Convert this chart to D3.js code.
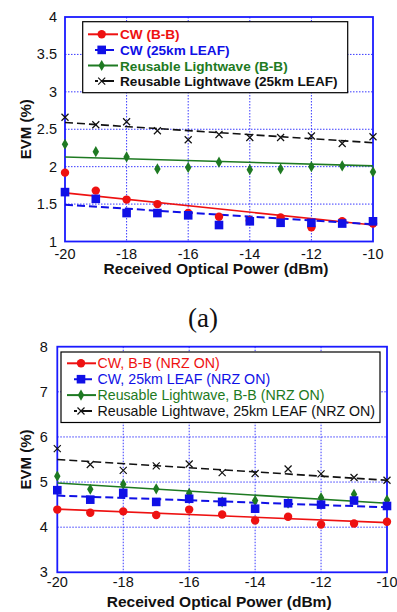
<!DOCTYPE html>
<html>
<head>
<meta charset="utf-8">
<script src="https://cdn.jsdelivr.net/npm/d3@7"></script>
<style>
  body { margin: 0; background: #fff; }
  svg { display: block; font-family: Arial, "Liberation Sans", sans-serif; }
</style>
</head>
<body>
<svg id="chart" width="397" height="612"></svg>
<script>
// received optical power (dBm)
const power = [-20, -19, -18, -17, -16, -15, -14, -13, -12, -11, -10];

// (a) top panel EVM values (%)
const cwBB = [1.92, 1.68, 1.56, 1.50, 1.38, 1.33, 1.28, 1.32, 1.19, 1.27, 1.24];
const cwLeaf = [1.66, 1.57, 1.38, 1.38, 1.35, 1.22, 1.27, 1.25, 1.25, 1.24, 1.27];
const rlBB = [2.30, 2.20, 2.13, 1.97, 1.99, 2.06, 1.96, 1.97, 2.00, 2.01, 1.93];
const rlLeaf = [2.66, 2.56, 2.60, 2.48, 2.36, 2.43, 2.39, 2.39, 2.41, 2.31, 2.40];
// trend line values at -20 and -10 dBm
const cwBBFit = [1.65, 1.22];
const cwLeafFit = [1.49, 1.23];
const rlBBFit = [2.13, 2.01];
const rlLeafFit = [2.59, 2.32];

// bottom panel EVM values (%), NRZ ON
const cwBBNrz = [4.39, 4.32, 4.35, 4.27, 4.39, 4.28, 4.15, 4.23, 4.06, 4.08, 4.12];
const cwLeafNrz = [4.82, 4.61, 4.76, 4.56, 4.63, 4.56, 4.41, 4.53, 4.50, 4.59, 4.47];
const rlBBNrz = [5.13, 4.84, 4.95, 4.85, 4.75, 4.56, 4.59, 4.53, 4.65, 4.73, 4.60];
const rlLeafNrz = [5.74, 5.39, 5.26, 5.36, 5.40, 5.21, 5.19, 5.29, 5.18, 5.10, 5.04];
const cwBBNrzFit = [4.40, 4.10];
const cwLeafNrzFit = [4.70, 4.44];
const rlBBNrzFit = [4.98, 4.53];
const rlLeafNrzFit = [5.50, 5.04];

const fitX = [-20, -10];
const xTicks = [-20, -18, -16, -14, -12, -10];
const yTicksTop = [1, 1.5, 2, 2.5, 3, 3.5, 4];
const yTicksBottom = [3, 4, 5, 6, 7, 8];

const legendTop = ["CW (B-B)", "CW (25km LEAF)", "Reusable Lightwave (B-B)", "Reusable Lightwave (25km LEAF)"];
const legendBottom = ["CW, B-B (NRZ ON)", "CW, 25km LEAF (NRZ ON)", "Reusable Lightwave,  B-B (NRZ ON)", "Reusable Lightwave, 25km LEAF (NRZ ON)"];

const colors = ["#ee1111", "#1010e6", "#1e7a22", "#111111"];
const markers = ["circle", "square", "diamond", "cross"];
const dashes = [null, "8,4", null, "8,4"];

const svg = d3.select("#chart");
const GRID = "#3a3aff";

function drawMarker(g, type, cx, cy, color) {
  if (type === "circle") {
    g.append("circle").attr("cx", cx).attr("cy", cy).attr("r", 4.2).attr("fill", color);
  } else if (type === "square") {
    g.append("rect").attr("x", cx - 4.3).attr("y", cy - 4.3).attr("width", 8.6).attr("height", 8.6).attr("fill", color);
  } else if (type === "diamond") {
    g.append("path").attr("transform", `translate(${cx},${cy})`)
      .attr("d", d3.symbol(d3.symbolDiamond, 36)()).attr("fill", color);
  } else {
    g.append("path")
      .attr("d", `M${cx - 3.5},${cy - 3.5}L${cx + 3.5},${cy + 3.5}M${cx - 3.5},${cy + 3.5}L${cx + 3.5},${cy - 3.5}`)
      .attr("stroke", color).attr("stroke-width", 1.2).attr("fill", "none");
  }
}

function panel(opts) {
  const x = d3.scaleLinear().domain([-20, -10]).range([opts.left, opts.right]);
  const y = d3.scaleLinear().domain(opts.yDomain).range([opts.bottom, opts.top]);
  const g = svg.append("g");

  // dotted grid
  g.append("g").selectAll("line").data(xTicks.slice(1, -1)).join("line")
    .attr("x1", d => x(d)).attr("x2", d => x(d))
    .attr("y1", opts.top).attr("y2", opts.bottom)
    .attr("stroke", GRID).attr("stroke-width", 1).attr("stroke-dasharray", "1.5,1.5");
  g.append("g").selectAll("line").data(opts.yTicks.slice(1, -1)).join("line")
    .attr("y1", d => y(d)).attr("y2", d => y(d))
    .attr("x1", opts.left).attr("x2", opts.right)
    .attr("stroke", GRID).attr("stroke-width", 1).attr("stroke-dasharray", "1.5,1.5");

  // frame
  g.append("rect")
    .attr("x", opts.left).attr("y", opts.top)
    .attr("width", opts.right - opts.left).attr("height", opts.bottom - opts.top)
    .attr("fill", "none").attr("stroke", "#1a1aff").attr("stroke-width", 1.8);

  // tick labels
  g.append("g").selectAll("text").data(xTicks).join("text")
    .attr("x", d => x(d)).attr("y", opts.xLabelY)
    .attr("text-anchor", "middle").attr("font-size", 14.5).attr("fill", "#111")
    .text(d => d);
  g.append("g").selectAll("text").data(opts.yTicks).join("text")
    .attr("x", opts.left - opts.yGap).attr("y", d => y(d) + 5)
    .attr("text-anchor", "end").attr("font-size", 14.5).attr("fill", "#111")
    .text(d => d);

  // axis titles
  g.append("text")
    .attr("x", (opts.left + opts.right) / 2 - 3).attr("y", opts.xTitleY)
    .attr("text-anchor", "middle").attr("font-size", 15.5).attr("font-weight", "bold")
    .attr("fill", "#111").text("Received Optical Power (dBm)");
  g.append("text")
    .attr("transform", `translate(31,${(opts.top + opts.bottom) / 2}) rotate(-90)`)
    .attr("text-anchor", "middle").attr("font-size", 15).attr("font-weight", "bold")
    .attr("fill", "#111").text("EVM (%)");

  // trend lines
  const line = d3.line().x(d => x(d[0])).y(d => y(d[1]));
  opts.fits.forEach((f, i) => {
    g.append("path")
      .attr("d", line(fitX.map((p, j) => [p, f[j]])))
      .attr("fill", "none").attr("stroke", colors[i])
      .attr("stroke-width", i === 1 ? 2 : 1.6)
      .attr("stroke-dasharray", dashes[i]);
  });

  // markers
  const order = [3, 2, 0, 1];
  order.forEach(i => {
    power.forEach((p, j) => drawMarker(g, markers[i], x(p), y(opts.series[i][j]), colors[i]));
  });

  // legend
  const L = opts.legend;
  g.append("rect").attr("x", L.x).attr("y", L.y).attr("width", L.w).attr("height", L.h)
    .attr("fill", "#fff").attr("stroke", "#000").attr("stroke-width", 1.2);
  L.labels.forEach((lab, i) => {
    const cy = L.y + L.first + i * L.step;
    const x0 = i % 2 === 1 ? L.lx0 + 7 : L.lx0;
    const x1 = i % 2 === 1 ? L.lx1 - 4 : L.lx1;
    g.append("line").attr("x1", x0).attr("x2", x1).attr("y1", cy).attr("y2", cy)
      .attr("stroke", colors[i]).attr("stroke-width", 2)
      .attr("stroke-dasharray", i % 2 === 1 ? "3,3,20" : null);
    drawMarker(g, markers[i], L.mx, cy, colors[i]);
    g.append("text").attr("x", L.tx).attr("y", cy + 5)
      .attr("font-size", L.fs).attr("font-weight", L.fw)
      .attr("fill", L.colored ? colors[i] : "#111").text(lab);
  });
}

panel({
  left: 65, right: 373, top: 17, bottom: 241.5,
  yDomain: [1, 4], yTicks: yTicksTop, yGap: 8,
  xLabelY: 258.5, xTitleY: 274,
  series: [cwBB, cwLeaf, rlBB, rlLeaf],
  fits: [cwBBFit, cwLeafFit, rlBBFit, rlLeafFit],
  legend: { x: 82.7, y: 21.7, w: 265, h: 71, first: 12.6, step: 15.6,
    lx0: 88, lx1: 118, mx: 101.7, tx: 120, fs: 13.6, fw: "bold", colored: true, labels: legendTop }
});

panel({
  left: 57.3, right: 387, top: 346.7, bottom: 572.3,
  yDomain: [3, 8], yTicks: yTicksBottom, yGap: 9.5,
  xLabelY: 587, xTitleY: 606.5,
  series: [cwBBNrz, cwLeafNrz, rlBBNrz, rlLeafNrz],
  fits: [cwBBNrzFit, cwLeafNrzFit, rlBBNrzFit, rlLeafNrzFit],
  legend: { x: 61, y: 352, w: 319, h: 70.5, first: 11.3, step: 15.9,
    lx0: 67, lx1: 96, mx: 81, tx: 97.5, fs: 14.2, fw: "normal", colored: true, labels: legendBottom }
});

// panel caption
svg.append("text")
  .attr("x", 203).attr("y", 327)
  .attr("text-anchor", "middle")
  .attr("font-family", "'Liberation Serif', 'Times New Roman', serif")
  .attr("font-size", 27).attr("fill", "#111")
  .text("(a)");
</script>
</body>
</html>
